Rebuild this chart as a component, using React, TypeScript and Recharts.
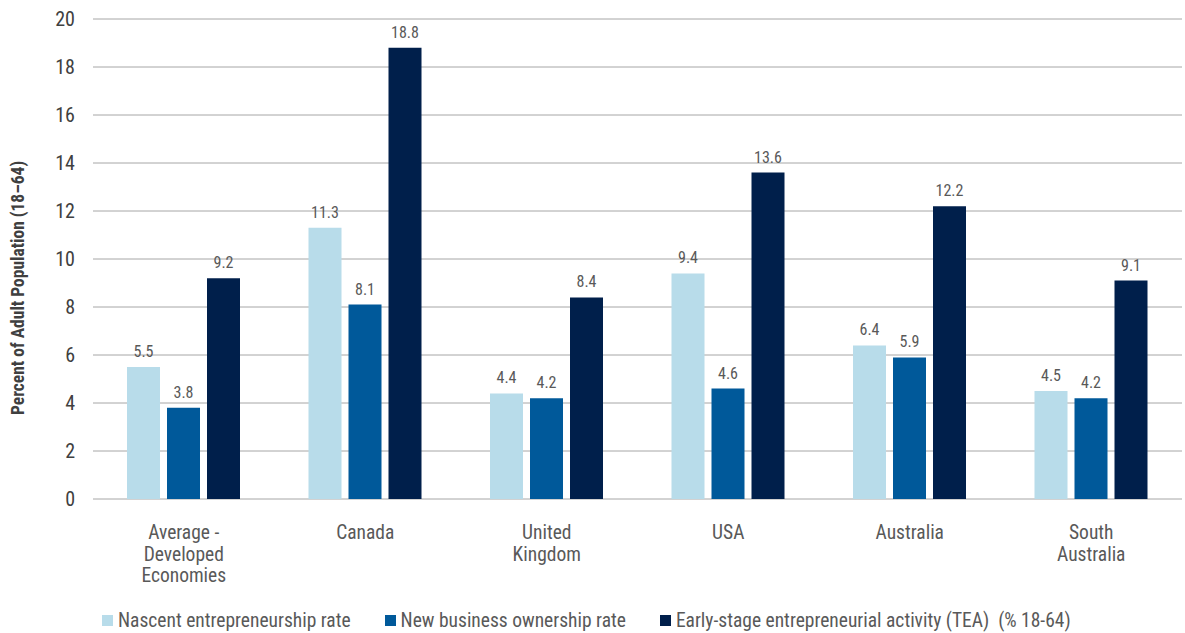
import { BarChart, Bar, XAxis, YAxis, CartesianGrid, Legend, LabelList } from 'recharts';

const categories = [
  'Average -\nDeveloped\nEconomies',
  'Canada',
  'United\nKingdom',
  'USA',
  'Australia',
  'South\nAustralia',
];
const nascent = [5.5, 11.3, 4.4, 9.4, 6.4, 4.5];
const newBusiness = [3.8, 8.1, 4.2, 4.6, 5.9, 4.2];
const tea = [9.2, 18.8, 8.4, 13.6, 12.2, 9.1];
const yTicks = [0, 2, 4, 6, 8, 10, 12, 14, 16, 18, 20];

const series = [
  { key: 'nascent', name: 'Nascent entrepreneurship rate', color: '#b8dcea' },
  { key: 'newBusiness', name: 'New business ownership rate', color: '#00599a' },
  { key: 'tea', name: 'Early-stage entrepreneurial activity (TEA)  (% 18-64)', color: '#001f4b' },
];

const data = categories.map((c, i) => ({
  name: c,
  nascent: nascent[i],
  newBusiness: newBusiness[i],
  tea: tea[i],
}));

const FONT = '"Roboto Condensed", Roboto, sans-serif';

function CategoryTick({ x, y, payload }: any) {
  const lines = String(payload.value).split('\n');
  return (
    <text x={x} y={y + 32} textAnchor="middle" fill="#595959" fontSize={19.5} fontFamily={FONT}>
      {lines.map((l, i) => (
        <tspan key={i} x={x} dy={i === 0 ? 0 : 21.5}>
          {l}
        </tspan>
      ))}
    </text>
  );
}

function YLabel() {
  return (
    <text
      transform="translate(24,288) rotate(-90)"
      textAnchor="middle"
      fill="#404040"
      fontSize={17.5}
      fontWeight="bold"
      fontFamily={FONT}
    >
      Percent of Adult Population (18–64)
    </text>
  );
}

function LegendContent() {
  return (
    <div style={{ display: 'flex', fontFamily: FONT, fontSize: 19.5, color: '#595959', paddingLeft: 102 }}>
      {series.map((s) => (
        <div key={s.key} style={{ display: 'flex', alignItems: 'center', marginRight: 34 }}>
          <span style={{ width: 11, height: 11, background: s.color, display: 'inline-block', marginRight: 5 }} />
          <span style={{ whiteSpace: 'pre' }}>{s.name}</span>
        </div>
      ))}
    </div>
  );
}

export default function App() {
  return (
    <div style={{ position: 'absolute', left: 0, top: 0, background: '#fff' }}>
      <BarChart
        width={1185}
        height={633}
        data={data}
        margin={{ top: 19, right: 3, left: 0, bottom: 0 }}
        barGap={7}
        barSize={33}
      >
        <CartesianGrid vertical={false} stroke="#a6a6a6" />
        <XAxis
          dataKey="name"
          axisLine={false}
          tickLine={false}
          interval={0}
          height={110}
          tick={<CategoryTick />}
        />
        <YAxis
          domain={[0, 20]}
          ticks={yTicks}
          width={93}
          axisLine={false}
          tickLine={false}
          tickMargin={12}
          tick={{ fill: '#404040', fontSize: 20, fontFamily: FONT }}
          label={<YLabel />}
        />
        <Legend verticalAlign="bottom" align="left" height={24} content={<LegendContent />} />
        {series.map((s) => (
          <Bar key={s.key} dataKey={s.key} name={s.name} fill={s.color} isAnimationActive={false}>
            <LabelList
              dataKey={s.key}
              position="top"
              offset={10}
              fill="#595959"
              fontSize={16}
              fontFamily={FONT}
            />
          </Bar>
        ))}
      </BarChart>
    </div>
  );
}
